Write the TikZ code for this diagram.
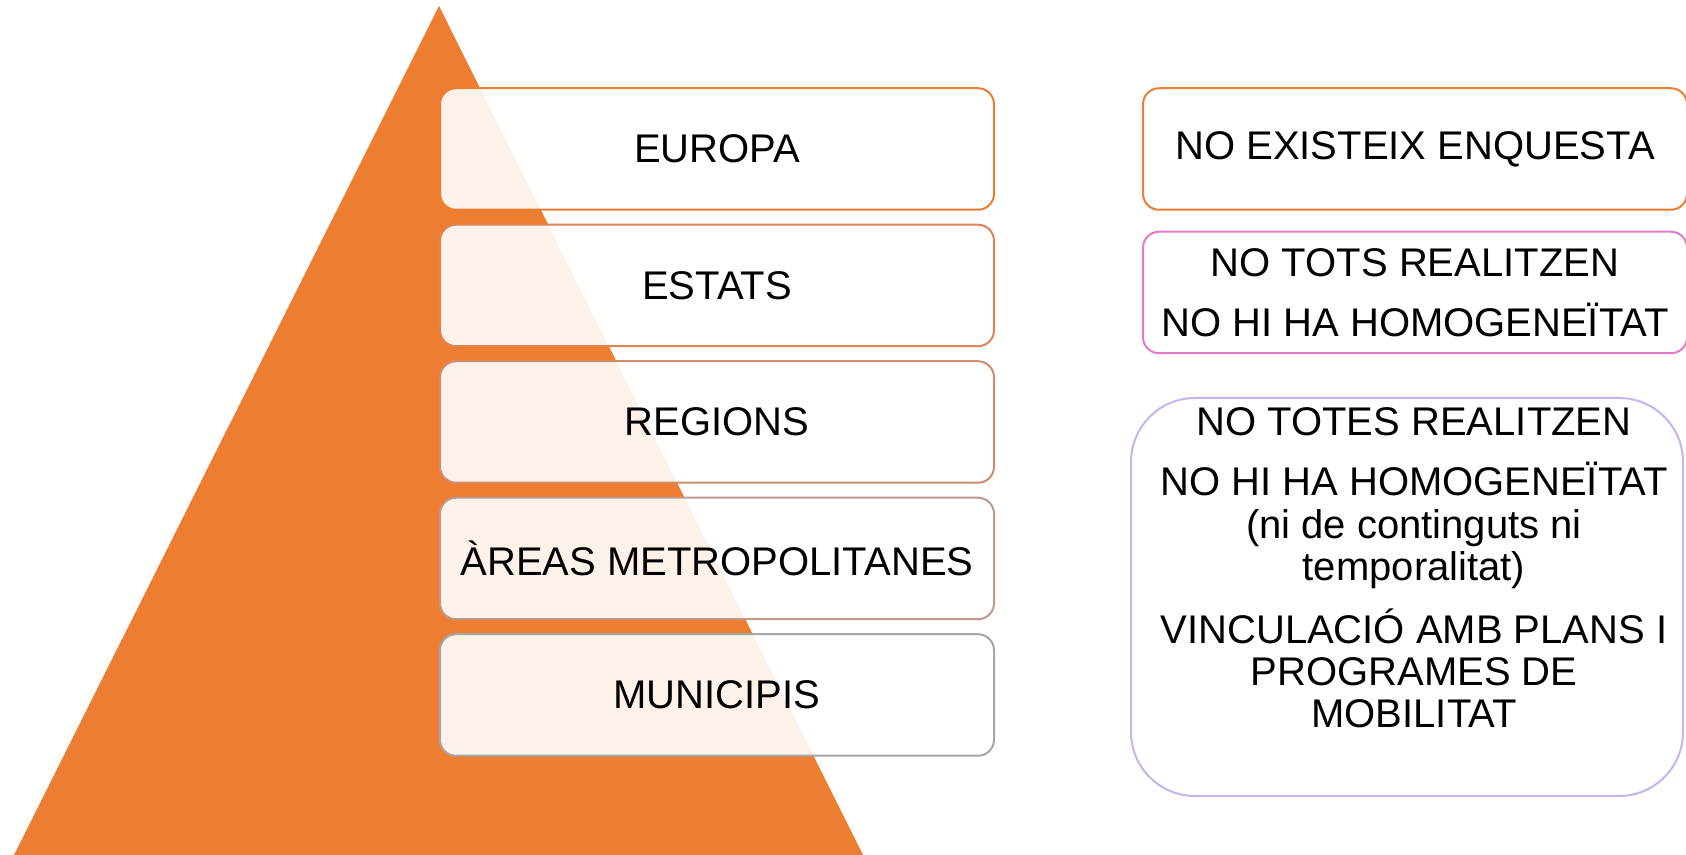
\documentclass[tikz,border=0pt]{standalone}
\usepackage{fontspec}
\setmainfont{Liberation Sans}
\usetikzlibrary{positioning, calc}
\definecolor{pyramid}{HTML}{ED7D31}
\definecolor{tierA}{RGB}{237,125,49}
\definecolor{tierB}{RGB}{224,131,82}
\definecolor{tierC}{RGB}{208,141,108}
\definecolor{tierD}{RGB}{190,152,138}
\definecolor{tierE}{RGB}{165,165,165}
\definecolor{notePink}{HTML}{E57AC8}
\definecolor{noteLilac}{HTML}{C8B4EC}
\tikzset{
    tierbox/.style={draw, line width=1pt, rounded corners=8pt, fill=white, fill opacity=0.9, text opacity=1,
        minimum width=277pt, minimum height=60.75pt, font=\fontsize{20}{21.2}\selectfont},
    notebox/.style={draw, line width=1pt, rounded corners=8pt, fill=white, align=center,
        minimum width=272pt, minimum height=60.75pt, font=\fontsize{20}{21.2}\selectfont},
    notetext/.style={align=center, inner sep=0pt, font=\fontsize{20}{21.2}\selectfont}
}
\begin{document}
\begin{tikzpicture}[x=0.5pt, y=0.5pt, node distance=6.5pt]
    \useasboundingbox (0,0) rectangle (1686,855);
    % Pyramid behind the levels
    \fill[pyramid] (439,849) -- (863,0) -- (14,0) -- cycle;
    % Levels
    \node[tierbox, draw=tierA] (europa) at (717,706) {EUROPA};
    \node[tierbox, draw=tierB, below=of europa] (estats) {ESTATS};
    \node[tierbox, draw=tierC, below=of estats] (regions) {REGIONS};
    \node[tierbox, draw=tierD, below=of regions] (arees) {ÀREAS METROPOLITANES};
    \node[tierbox, draw=tierE, below=of arees] (municipis) {MUNICIPIS};
    % Notes on the right
    \node[notebox, draw=pyramid] (enquesta) at (1415,706) {NO EXISTEIX ENQUESTA};
    \node[notebox, draw=notePink] (tots) at (1415,562.5) {NO TOTS REALITZEN\\[8.8pt]NO HI HA HOMOGENEÏTAT};
    \node[notebox, draw=noteLilac, rounded corners=32pt, minimum width=276pt, minimum height=199pt] (mobil) at (1407,258) {};
    \node[notetext] (mobiltxt) at ($(mobil.center)+(7,29)$) {NO TOTES REALITZEN\\[8.8pt]NO HI HA HOMOGENEÏTAT\\(ni de continguts ni\\temporalitat)\\[8.8pt]VINCULACIÓ AMB PLANS I\\PROGRAMES DE\\MOBILITAT};
\end{tikzpicture}
\end{document}
